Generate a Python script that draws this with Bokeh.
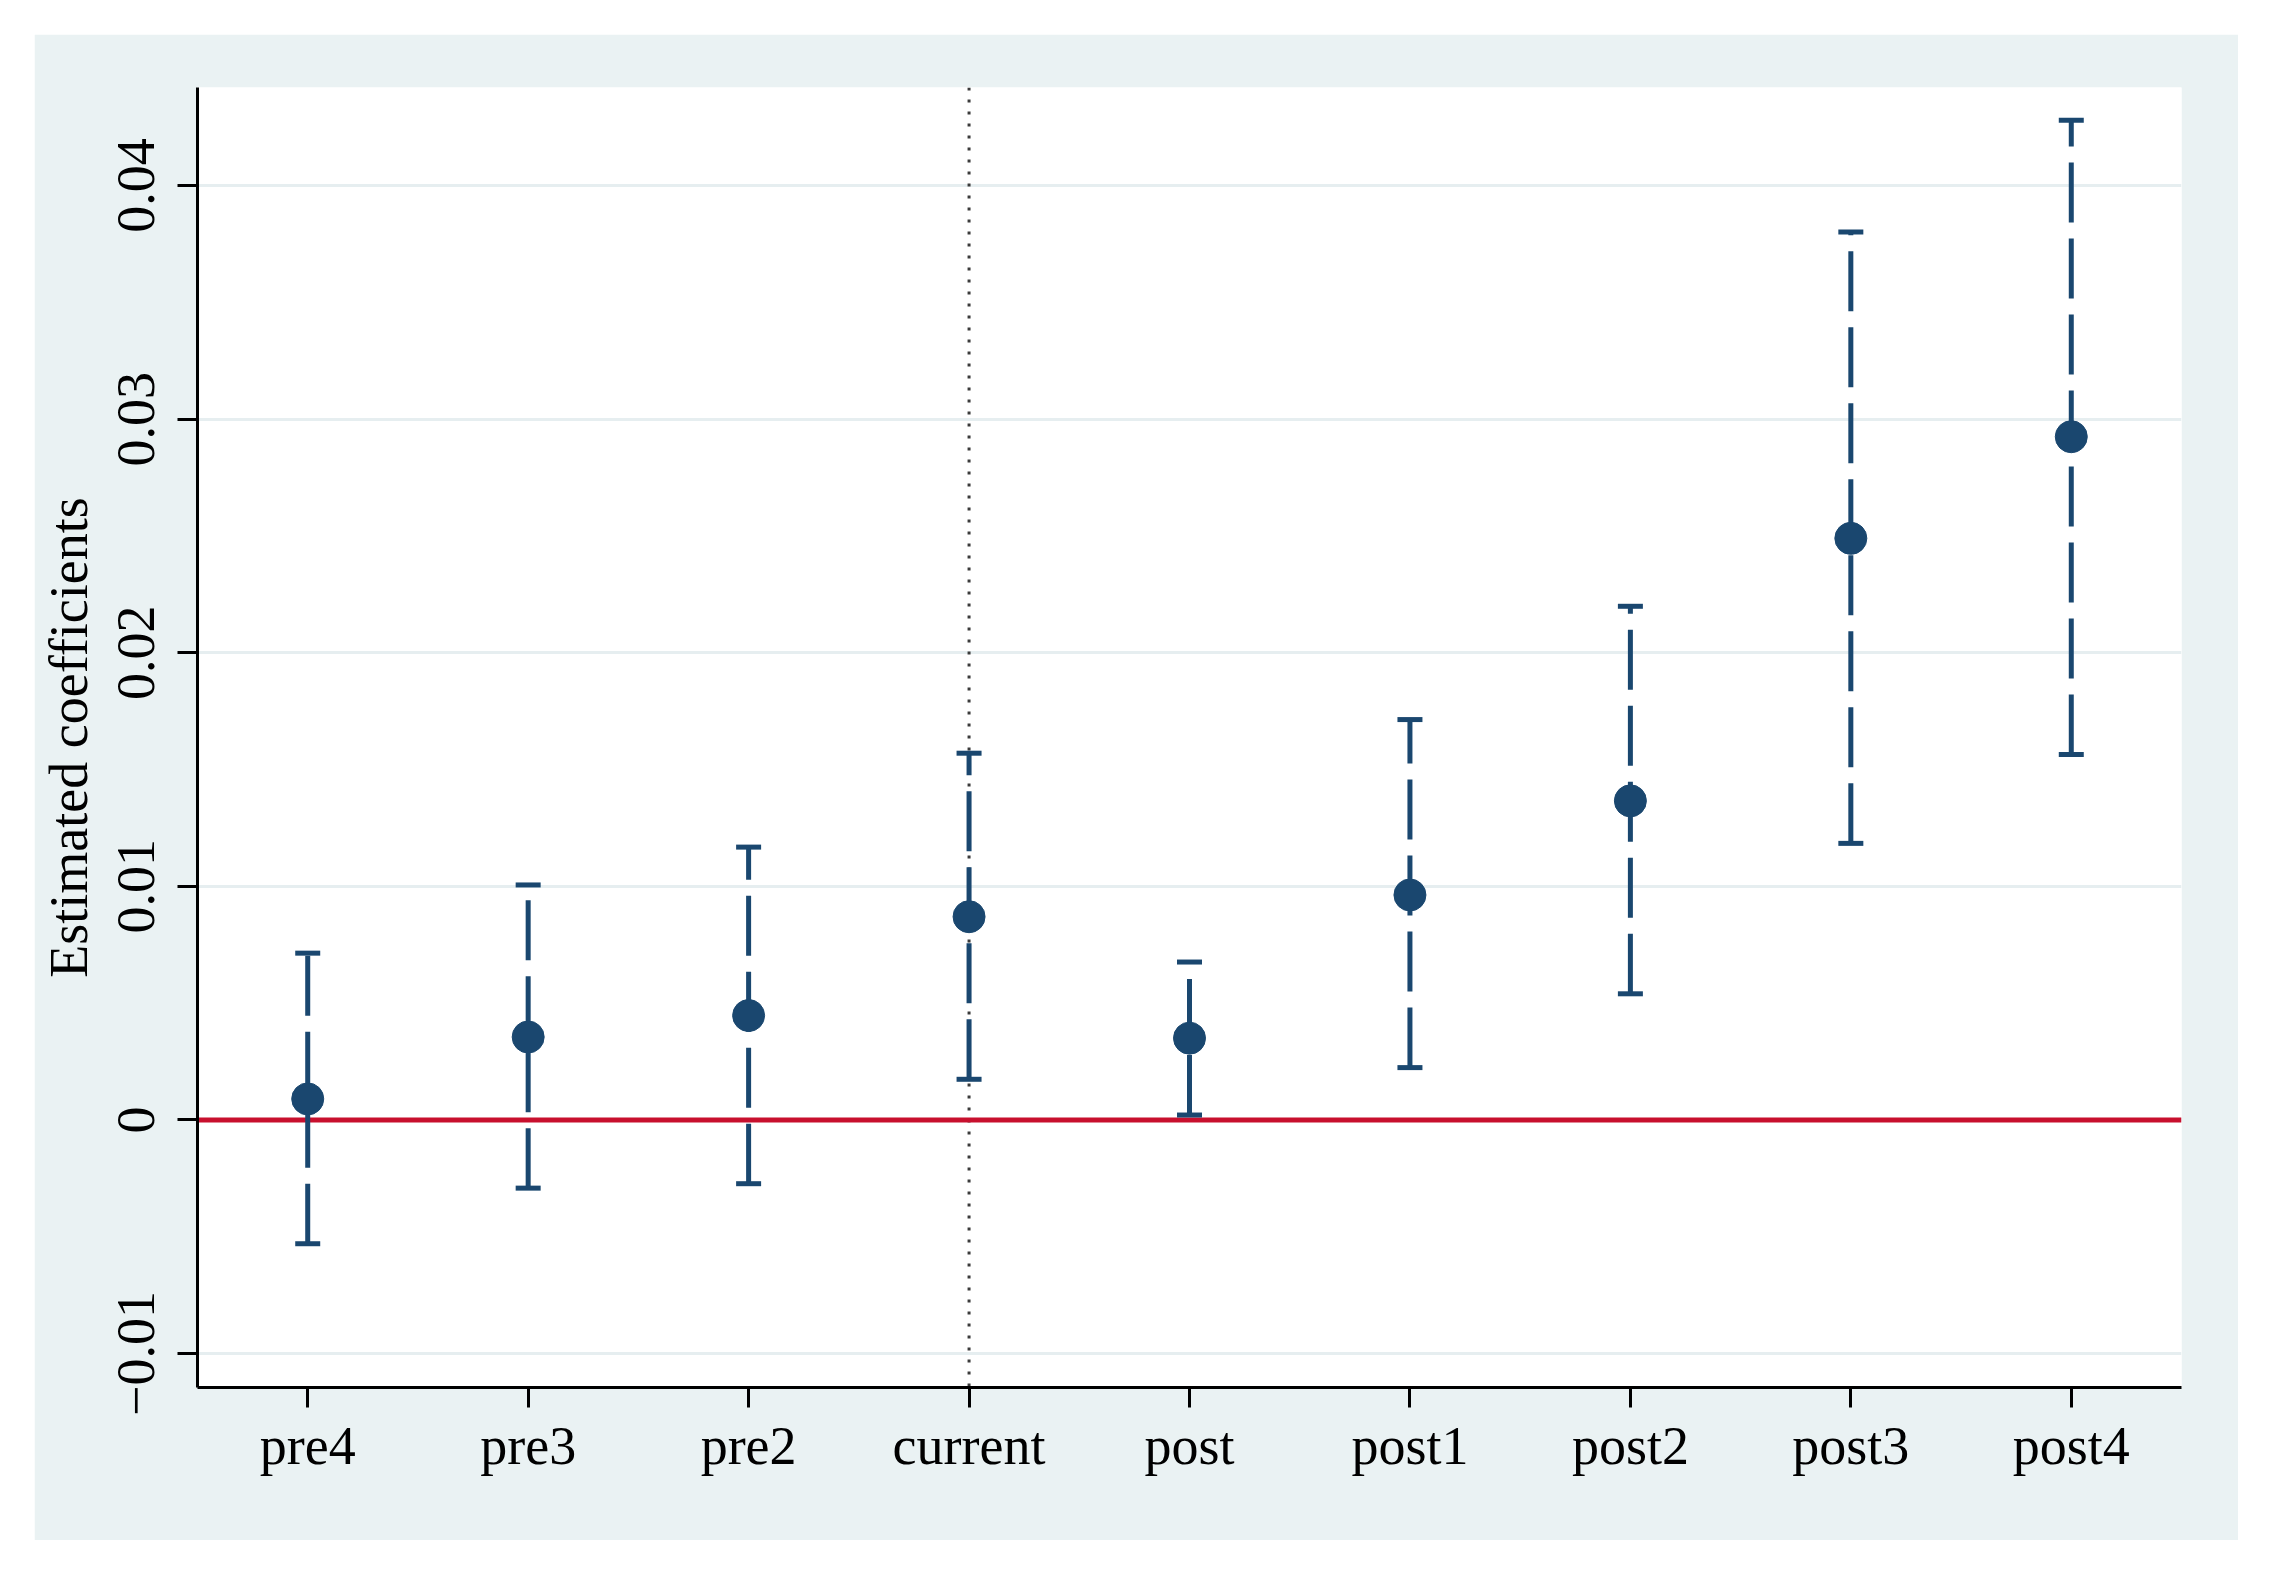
from bokeh.plotting import figure
from bokeh.models import FixedTicker, Span, Spacer, FactorRange, Range1d, ColumnDataSource
from bokeh.layouts import row, column
from bokeh.embed import file_html
from bokeh.resources import INLINE

# ---- data ----
periods = ["pre4", "pre3", "pre2", "current", "post", "post1", "post2", "post3", "post4"]
coef = [0.0009, 0.00355, 0.00447, 0.00870, 0.00350, 0.00963, 0.01366, 0.02490, 0.02925]
ci_low = [-0.00530, -0.00292, -0.00273, 0.00174, 0.00021, 0.00224, 0.00540, 0.01184, 0.01565]
ci_high = [0.00714, 0.01006, 0.01168, 0.01570, 0.00676, 0.01714, 0.02199, 0.03801, 0.04280]
y_ticks = [-0.01, 0.0, 0.01, 0.02, 0.03, 0.04]
y_tick_labels = ["\u22120.01", "0", "0.01", "0.02", "0.03", "0.04"]
event_period = "current"
y_title = "Estimated coefficients"

NAVY = "#1a476f"
RED = "#c8102e"
BG = "#eaf2f3"
FONT = "Liberation Serif"

src = ColumnDataSource(dict(x=periods, b=coef, lo=ci_low, hi=ci_high))

p = figure(
    x_range=FactorRange(*periods),
    y_range=Range1d(-0.011455, 0.0442),
    width=2204, height=1506,
    min_border_left=163, min_border_right=57, min_border_top=53, min_border_bottom=153,
    output_backend="svg", toolbar_location=None,
    background_fill_color="white", border_fill_color=BG,
    outline_line_color=None,
)

# grid
p.xgrid.grid_line_color = None
p.ygrid.grid_line_color = "#e6eef0"
p.ygrid.grid_line_width = 3
p.yaxis.ticker = FixedTicker(ticks=y_ticks)
p.yaxis.major_label_overrides = {t: l for t, l in zip(y_ticks, y_tick_labels)}

# reference lines
vline = Span(location=periods.index(event_period) + 0.5, dimension="height",
             line_color="#3a3a3a", line_width=3, line_dash="3 9", level="underlay")
hline = Span(location=0, dimension="width", line_color=RED, line_width=5, level="underlay")
p.add_layout(vline)
p.add_layout(hline)

# error bars (stem dashed from lower bound upward) and caps
p.segment(x0="x", y0="lo", x1="x", y1="hi", source=src, line_color=NAVY,
          line_width=5, line_dash="60 16")
p.rect(x="x", y="lo", width=25, height=5, width_units="screen", height_units="screen",
       source=src, fill_color=NAVY, line_color=None)
p.rect(x="x", y="hi", width=25, height=5, width_units="screen", height_units="screen",
       source=src, fill_color=NAVY, line_color=None)
p.scatter(x="x", y="b", source=src, size=32, marker="circle",
          fill_color=NAVY, line_color=NAVY, line_width=1)

# axes
for ax in (p.xaxis, p.yaxis):
    ax.axis_line_color = "black"
    ax.axis_line_width = 3
    ax.major_tick_line_color = "black"
    ax.major_tick_line_width = 3
    ax.major_tick_out = 20
    ax.major_tick_in = 0
    ax.minor_tick_line_color = None
    ax.major_label_text_font = FONT
    ax.major_label_text_color = "black"

p.xaxis.major_label_text_font_size = "54px"
p.xaxis.major_label_standoff = 8
p.yaxis.major_label_text_font_size = "54px"
p.yaxis.major_label_orientation = "vertical"
p.yaxis.major_label_standoff = 23

p.yaxis.axis_label = y_title
p.yaxis.axis_label_text_font = FONT
p.yaxis.axis_label_text_font_style = "normal"
p.yaxis.axis_label_text_font_size = "54px"
p.yaxis.axis_label_text_color = "black"
p.yaxis.axis_label_standoff = 17

layout = column(Spacer(height=34), row(Spacer(width=34), p))
open("out.html", "w").write(file_html(layout, INLINE))
